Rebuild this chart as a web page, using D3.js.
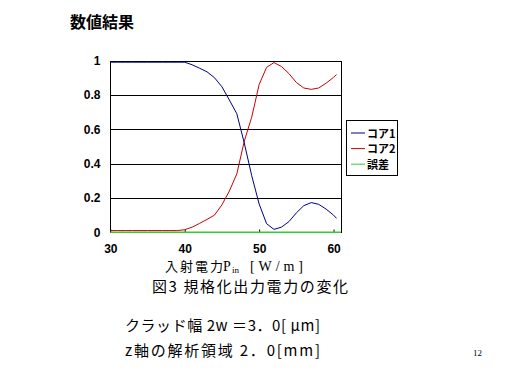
<!DOCTYPE html>
<html><head><meta charset="utf-8">
<script src="https://cdn.jsdelivr.net/npm/d3@7"></script>
<style>body{margin:0;background:#fff}svg{display:block}</style>
</head><body>
<script>
const xValues = [30,31,32,33,34,35,36,37,38,39,40,41,42,43,44,45,46,47,48,49,50,51,52,53,54,55,56,57,58,59,60,60.4];
const core1 = [0.99,0.99,0.99,0.99,0.99,0.99,0.99,0.99,0.99,0.99,0.99,0.975,0.955,0.934,0.90,0.847,0.77,0.69,0.52,0.33,0.165,0.05,0.017,0.03,0.062,0.113,0.155,0.173,0.163,0.135,0.10,0.081];
const core2 = [0.01,0.01,0.01,0.01,0.01,0.01,0.01,0.01,0.01,0.01,0.015,0.03,0.052,0.075,0.10,0.16,0.24,0.34,0.53,0.67,0.86,0.96,0.988,0.965,0.924,0.872,0.84,0.832,0.84,0.868,0.902,0.918];
const errX = [30,61];
const errVals = [0,0];
const xTicks = [30,40,50,60];
const yTicks = [0,0.2,0.4,0.6,0.8,1];
const seriesNames = ["コア1","コア2","誤差"];
const colors = ["#000080","#cc0000","#33cc33"];

const W=512,H=384;
const svg=d3.select("body").append("svg").attr("width",W).attr("height",H);
const x=d3.scaleLinear().domain([30,61]).range([110.3,341]);
const y=d3.scaleLinear().domain([0,1]).range([232.3,60.5]);
const jp='"Noto Sans CJK JP", sans-serif';
const serif='"Liberation Serif", serif';

// title
svg.append("text").attr("x",70).attr("y",28).attr("font-family",jp).attr("font-weight","bold").attr("font-size",16).text("数値結果");

// gridlines
svg.append("g").selectAll("line").data(yTicks.filter(d=>d>0)).join("line")
  .attr("x1",x(30)).attr("x2",x(61)).attr("y1",d=>Math.round(y(d))+0.5).attr("y2",d=>Math.round(y(d))+0.5)
  .attr("stroke","#000").attr("stroke-width",1);
// plot border
svg.append("rect").attr("x",Math.round(x(30))+0.5).attr("y",Math.round(y(1))+0.5)
  .attr("width",Math.round(x(61))-Math.round(x(30))).attr("height",Math.round(y(0))-Math.round(y(1)))
  .attr("fill","none").attr("stroke","#000");

// x axis
const xAxis=svg.append("g").attr("transform",`translate(0,${Math.round(y(0))+0.5})`)
  .call(d3.axisBottom(x).tickValues(xTicks).tickSize(-3).tickPadding(11.5).tickFormat(d3.format("d")));
xAxis.select(".domain").remove();
xAxis.selectAll("text").attr("font-family","Liberation Sans, Arial, sans-serif").attr("font-weight","bold").attr("font-size",12).attr("fill","#000");
xAxis.selectAll("line").attr("stroke","#000");

// y axis
const yAxis=svg.append("g").attr("transform",`translate(${Math.round(x(30))+0.5},0)`)
  .call(d3.axisLeft(y).tickValues(yTicks).tickSize(0).tickPadding(10).tickFormat(d=>d3.format("")(+d.toFixed(1))));
yAxis.select(".domain").remove();
yAxis.selectAll("text").attr("font-family","Liberation Sans, Arial, sans-serif").attr("font-weight","bold").attr("font-size",12).attr("fill","#000");

// lines
const line=d3.line().x(d=>x(d[0])).y(d=>y(d[1]));
svg.append("path").datum(errX.map((v,i)=>[v,errVals[i]])).attr("d",line).attr("fill","none").attr("stroke",colors[2]).attr("stroke-width",1.5);
svg.append("path").datum(xValues.map((v,i)=>[v,core2[i]])).attr("d",line).attr("fill","none").attr("stroke",colors[1]).attr("stroke-width",1);
svg.append("path").datum(xValues.map((v,i)=>[v,core1[i]])).attr("d",line).attr("fill","none").attr("stroke",colors[0]).attr("stroke-width",1);

// legend
const lg=svg.append("g");
lg.append("rect").attr("x",346.5).attr("y",120.5).attr("width",51).attr("height",55).attr("fill","#fff").attr("stroke","#000");
seriesNames.forEach((n,i)=>{
  const ly=133+i*15.6;
  lg.append("line").attr("x1",351).attr("x2",365).attr("y1",ly).attr("y2",ly).attr("stroke",colors[i]).attr("stroke-width",1);
  lg.append("text").attr("x",367).attr("y",ly+4.5).attr("font-family",jp).attr("font-weight","bold").attr("font-size",11).text(n);
});

// axis title (separate pieces)
svg.append("text").attr("x",165).attr("y",271).attr("font-family",jp).attr("font-size",13).attr("textLength",58).attr("lengthAdjust","spacing").text("入射電力");
svg.append("text").attr("x",223).attr("y",271).attr("font-family",serif).attr("font-size",14).text("P");
svg.append("text").attr("x",232).attr("y",272.5).attr("font-family",serif).attr("font-size",9).text("in");
svg.append("text").attr("x",250).attr("y",271).attr("font-family",serif).attr("font-size",14).attr("textLength",53).attr("lengthAdjust","spacing").text("[W/m]");

svg.append("text").attr("x",152).attr("y",292).attr("font-family",jp).attr("font-size",15).attr("textLength",196).attr("lengthAdjust","spacing").text("図3 規格化出力電力の変化");

svg.append("text").attr("x",125).attr("y",331).attr("font-family",jp).attr("font-size",15).attr("textLength",195).attr("lengthAdjust","spacing").text("クラッド幅 2w ＝3．0[ μm]");
svg.append("text").attr("x",125).attr("y",356).attr("font-family",jp).attr("font-size",15).attr("textLength",195).attr("lengthAdjust","spacing").text("z軸の解析領域 2．0[mm]");
svg.append("text").attr("x",473).attr("y",356).attr("font-family",serif).attr("font-size",9).text("12");
</script>
</body></html>
